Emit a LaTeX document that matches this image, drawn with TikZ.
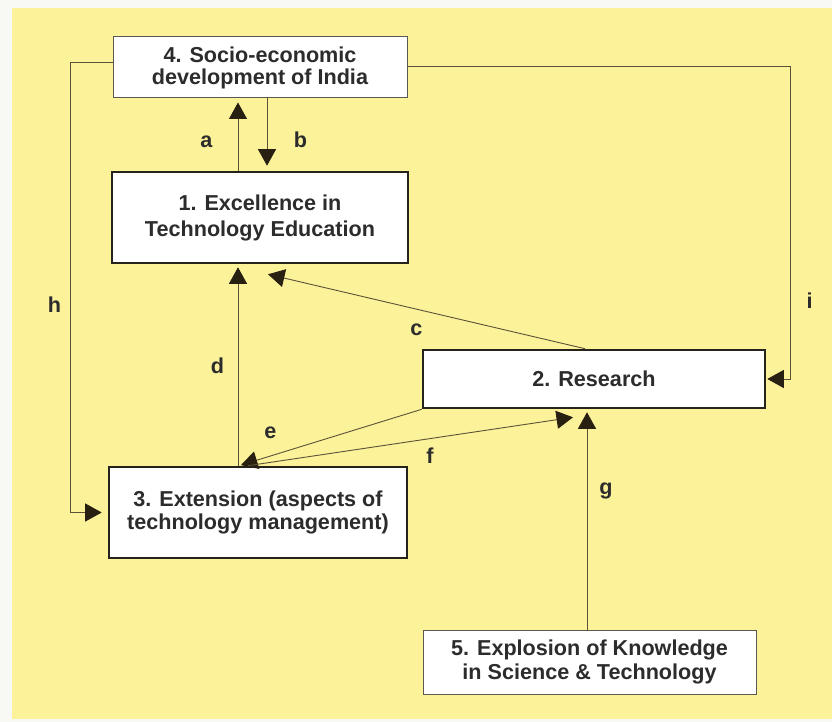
\documentclass[tikz,border=0pt]{standalone}
\usepackage{fontspec}
\setmainfont{Liberation Sans}
\usetikzlibrary{arrows.meta}

\definecolor{paper}{RGB}{248,248,244}
\definecolor{sheet}{RGB}{251,242,154}
\definecolor{boxline}{RGB}{38,34,28}
\definecolor{thinline}{RGB}{90,88,80}
\definecolor{wire}{RGB}{92,82,56}
\definecolor{tipc}{RGB}{40,32,16}
\definecolor{txt}{RGB}{44,44,44}

\tikzset{
  box/.style={draw=boxline, line width=2.6pt, fill=white, text=txt,
    align=center, inner sep=0pt, font=\bfseries\fontsize{21.6}{26}\selectfont},
  thinbox/.style={box, draw=thinline, line width=1pt},
  conn/.style={draw=wire, line width=0.9pt,
    -{Triangle[length=16.5pt,width=18pt,color=tipc]}},
  lbl/.style={anchor=base, text=txt, inner sep=0pt,
    font=\bfseries\fontsize{21.6}{26}\selectfont}
}

\begin{document}
\begin{tikzpicture}[x=1pt,y=-1pt]
  % page and coloured sheet
  \useasboundingbox (0,0) rectangle (832,722);
  \fill[paper] (0,0) rectangle (832,722);
  \fill[sheet] (12,8) rectangle (832,719);

  % corner points of the outer feedback loops
  \coordinate (hx) at (70,0);
  \coordinate (ix) at (790,0);

  % boxes
  \node[thinbox, minimum width=294pt, minimum height=61pt,
        font=\bfseries\fontsize{21.6}{22}\selectfont] (b4) at (260,67.5)
    {4. Socio-economic\\development of India};
  \node[box, minimum width=296pt, minimum height=91pt] (b1) at (260,217.5)
    {1. Excellence in\\Technology Education};
  \node[box, minimum width=342pt, minimum height=58pt] (b2) at (594,379)
    {2. Research};
  \node[box, minimum width=298pt, minimum height=91pt,
        font=\bfseries\fontsize{21.6}{23}\selectfont] (b3) at (258,512.5)
    {3. Extension (aspects of\\technology management)};
  \node[thinbox, minimum width=333pt, minimum height=64pt,
        font=\bfseries\fontsize{21.6}{24.5}\selectfont] (b5) at (589.5,662)
    {5. Explosion of Knowledge\\in Science \& Technology};

  % arrow end points near the boxes
  \coordinate (ctip) at ([xshift=8pt,yshift=-10pt]b1.south);
  \coordinate (ftip) at ([xshift=-21pt,yshift=-8pt]b2.south);

  % connectors
  \draw[conn, shorten >=4pt] ([xshift=-22pt]b1.north) -- ([xshift=-22pt]b4.south);
  \draw[conn, shorten >=5pt] ([xshift=7pt]b4.south) -- ([xshift=7pt]b1.north);
  \draw[conn] ([xshift=-9pt]b2.north) -- (ctip);
  \draw[conn, shorten >=3pt] ([xshift=-20pt]b3.north) -- ([xshift=-22pt]b1.south);
  \draw[conn, shorten >=2pt] (b2.south west) -- ([xshift=-19pt]b3.north);
  \draw[conn] ([xshift=-10pt]b3.north) -- (ftip);
  \draw[conn, shorten >=3pt] ([xshift=-2.5pt]b5.north) -- ([xshift=-7pt]b2.south);
  \draw[conn, shorten >=6pt] ([yshift=5pt]b4.west) -| (hx |- b3.west) -- (b3.west);
  \draw[conn, shorten >=1pt] ([yshift=1.5pt]b4.east) -| (ix |- b2.east) -- (b2.east);

  % connector labels
  \node[lbl] (la) at (206.5,148) {a};
  \node[lbl] (lb) at (300.5,148) {b};
  \node[lbl] (lc) at (416.5,335) {c};
  \node[lbl] (ld) at (217.5,373) {d};
  \node[lbl] (le) at (270.5,438) {e};
  \node[lbl] (lf) at (430,463) {f};
  \node[lbl] (lg) at (606,494) {g};
  \node[lbl] (lh) at (54.5,312) {h};
  \node[lbl] (li) at (809.5,308) {i};
\end{tikzpicture}
\end{document}
